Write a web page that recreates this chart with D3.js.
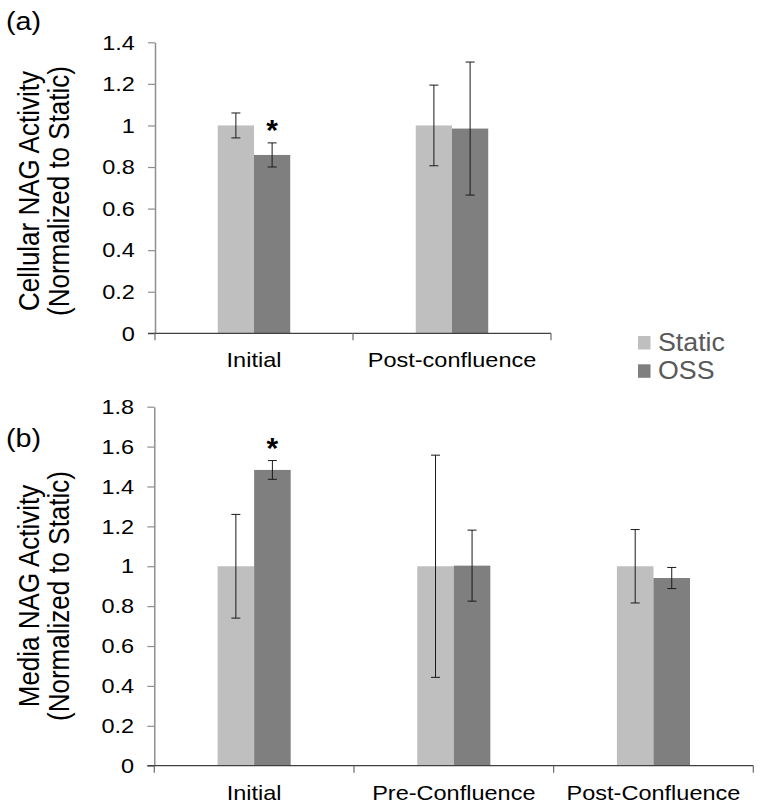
<!DOCTYPE html>
<html><head><meta charset="utf-8">
<script src="https://cdn.jsdelivr.net/npm/d3@7"></script>
<style>body{margin:0;background:#fff}svg{display:block}text{font-family:"Liberation Sans",Arial,sans-serif}</style>
</head><body><svg id="c" width="764" height="810"></svg>
<script>
// ---------- data ----------
const seriesNames = ["Static", "OSS"];
const seriesColors = ["#bfbfbf", "#7f7f7f"];

// panel (a): Cellular NAG activity
const catsA = ["Initial", "Post-confluence"];
const staticA = [1.0, 1.0];
const staticErrA = [0.06, 0.194];
const ossA = [0.858, 0.985];
const ossErrA = [0.058, 0.32];
const sigA = ["Initial"];            // OSS significant
const yTicksA = [0, 0.2, 0.4, 0.6, 0.8, 1, 1.2, 1.4];
const titleA = ["Cellular  NAG Activity", "(Normalized to Static)"];

// panel (b): Media NAG activity
const catsB = ["Initial", "Pre-Confluence", "Post-Confluence"];
const staticB = [1.0, 1.0, 1.0];
const staticErrB = [0.26, 0.557, 0.184];
const ossB = [1.483, 1.003, 0.941];
const ossErrB = [0.047, 0.178, 0.053];
const sigB = ["Initial"];
const yTicksB = [0, 0.2, 0.4, 0.6, 0.8, 1, 1.2, 1.4, 1.6, 1.8];
const titleB = ["Media NAG Activity", "(Normalized to Static)"];

// ---------- drawing ----------
const svg = d3.select("#c");
const SX = 1.12; // horizontal stretch of the original figure's text

function panel(cfg) {
  const g = svg.append("g");
  const x = d3.scaleBand().domain(cfg.cats).range([cfg.x0, cfg.x1]).padding(0);
  const bw = x.bandwidth();
  const inner = d3.scaleBand().domain(seriesNames).range([bw * 0.317, bw * 0.683]).padding(0);
  const y = d3.scaleLinear().domain([0, cfg.yMax]).range([cfg.yB, cfg.yT]);
  const vals = [cfg.s, cfg.o], errs = [cfg.se, cfg.oe];

  // bars
  seriesNames.forEach((s, si) => {
    g.selectAll(null).data(cfg.cats).join("rect")
      .attr("x", c => x(c) + inner(s))
      .attr("width", inner.bandwidth())
      .attr("y", (c, i) => y(vals[si][i]))
      .attr("height", (c, i) => y(0) - y(vals[si][i]))
      .attr("fill", seriesColors[si]);
  });

  // y axis
  const ya = g.append("g").attr("transform", `translate(${cfg.x0},0)`)
    .call(d3.axisLeft(y).tickValues(cfg.yTicks).tickSize(7).tickSizeOuter(0).tickPadding(11)
      .tickFormat(d3.format("~g")));
  ya.select(".domain").attr("stroke", "#8f8f8f").attr("stroke-width", 1.5);
  ya.selectAll(".tick line").attr("stroke", "#8f8f8f").attr("stroke-width", 1.2);
  ya.selectAll(".tick text").attr("font-size", 21).attr("fill", "#000")
    .attr("font-family", '"Liberation Sans",Arial,sans-serif')
    .attr("transform", `scale(${SX},1)`);

  // x axis
  g.append("line").attr("x1", cfg.x0 - 7).attr("x2", cfg.x1).attr("y1", y(0)).attr("y2", y(0))
    .attr("stroke", "#404040").attr("stroke-width", 1.2);
  const bounds = cfg.cats.map(c => x(c)).concat([cfg.x1]);
  g.selectAll(null).data(bounds).join("line")
    .attr("x1", d => d).attr("x2", d => d).attr("y1", y(0)).attr("y2", y(0) + 7)
    .attr("stroke", "#6a6a6a").attr("stroke-width", 1.2);
  g.selectAll(null).data(cfg.cats).join("text")
    .attr("transform", c => `translate(${x(c) + bw / 2},${y(0) + 34}) scale(${SX},1)`)
    .attr("text-anchor", "middle").attr("font-size", 21).attr("fill", "#000")
    .text(c => c);

  // error bars
  seriesNames.forEach((s, si) => {
    cfg.cats.forEach((c, i) => {
      const cx = x(c) + inner(s) + inner.bandwidth() / 2;
      const v = vals[si][i], e = errs[si][i];
      const eg = g.append("g").attr("stroke", "#1a1a1a").attr("stroke-width", 1);
      eg.append("line").attr("x1", cx).attr("x2", cx).attr("y1", y(v + e)).attr("y2", y(v - e));
      [v + e, v - e].forEach(t => eg.append("line").attr("x1", cx - 4.5).attr("x2", cx + 4.5)
        .attr("y1", y(t)).attr("y2", y(t)));
    });
  });

  // significance asterisks on OSS
  cfg.cats.forEach((c, i) => {
    if (cfg.sig.includes(c)) {
      const cx = x(c) + inner("OSS") + inner.bandwidth() / 2;
      const top = y(cfg.o[i] + cfg.oe[i]);
      g.append("text").attr("x", cx).attr("y", top - 2.5).attr("text-anchor", "middle")
        .attr("font-size", 30).attr("font-weight", "bold").attr("fill", "#000").text("*");
    }
  });

  // y title
  cfg.title.forEach((t, li) => {
    g.append("text")
      .attr("transform", `translate(${39 + li * 30},${cfg.titleY}) rotate(-90) scale(1,1.1)`)
      .attr("text-anchor", "middle").attr("font-size", 26).attr("fill", "#000")
      .text(t);
  });

  // panel label
  g.append("text").attr("transform", `translate(6,${cfg.labelY}) scale(1.15,1)`)
    .attr("font-size", 25).attr("fill", "#000").text(cfg.label);
}

panel({cats: catsA, s: staticA, se: staticErrA, o: ossA, oe: ossErrA, sig: sigA,
  yTicks: yTicksA, yMax: 1.4, x0: 155, x1: 551, yB: 333.3, yT: 42.3,
  title: titleA, titleY: 191, label: "(a)", labelY: 30});

panel({cats: catsB, s: staticB, se: staticErrB, o: ossB, oe: ossErrB, sig: sigB,
  yTicks: yTicksB, yMax: 1.8, x0: 154.3, x1: 753.3, yB: 765.7, yT: 406.7,
  title: titleB, titleY: 596, label: "(b)", labelY: 447});

// legend
const leg = svg.append("g");
seriesNames.forEach((s, i) => {
  leg.append("rect").attr("x", 638).attr("y", 336 + i * 28.3).attr("width", 12.5).attr("height", 13.5)
    .attr("fill", seriesColors[i]);
  leg.append("text").attr("transform", `translate(658,${351 + i * 28}) scale(1.07,1)`)
    .attr("font-size", 25).attr("fill", "#595959").text(s);
});
</script>
</body></html>
